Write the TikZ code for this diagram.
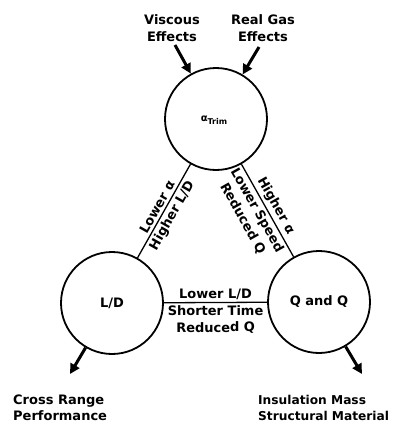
\documentclass[tikz,border=0pt]{standalone}
\usepackage{fontspec}
\setmainfont{DejaVu Sans}
\usetikzlibrary{arrows.meta}
\begin{document}
\begin{tikzpicture}[x=1pt,y=-1pt,
  every node/.style={font=\bfseries\fontsize{13}{16.5}\selectfont},
  bubble/.style={circle,draw,line width=1.8pt,minimum size=102pt,inner sep=0pt},
  link/.style={line width=1.3pt},
  lbl/.style={sloped,inner sep=2.5pt,align=center},
  fat/.style={line width=3pt,-{Triangle[length=10pt,width=10pt]}},
  caption/.style={align=center,inner sep=0pt},
  leftcap/.style={align=left,anchor=west,inner sep=0pt}]
\useasboundingbox (0,0) rectangle (395,428);
\node[bubble] (trim) at (216,119) {};
\node[font=\bfseries\fontsize{10}{12}\selectfont] (trimlabel) at (214,120) {α\raisebox{-2.5pt}{\fontsize{8}{10}\selectfont Trim}};
\node[bubble] (ld) at (112,303) {L/D};
\node[bubble] (qq) at (319,302) {Q and Q};
\draw[link] (ld) -- node[lbl,above] {Lower α} node[lbl,below] {Higher L/D} (trim);
\draw[link] (trim) -- node[lbl,above] {Higher α} node[lbl,below,pos=0.45] {Lower Speed\\Reduced Q} (qq);
\draw[link] (ld) -- node[lbl,above] {Lower L/D} node[lbl,below] {Shorter Time\\Reduced Q} (qq);
\node[caption] (visc) at (172,28) {Viscous\\Effects};
\node[caption] (gas) at (263,28) {Real Gas\\Effects};
\coordinate (viscstart) at (175,45);
\coordinate (gasstart) at (259,47);
\draw[fat] (viscstart) -- (trim);
\draw[fat] (gasstart) -- (trim);
\coordinate (ldend) at (70,374);
\coordinate (qqend) at (362,374);
\draw[fat] (ld) -- (ldend);
\draw[fat] (qq) -- (qqend);
\node[leftcap] (cross) at (13,408) {Cross Range\\Performance};
\node[leftcap,font=\bfseries\fontsize{12.2}{16.5}\selectfont] (insul) at (258,408) {Insulation Mass\\Structural Material};
\end{tikzpicture}
\end{document}
